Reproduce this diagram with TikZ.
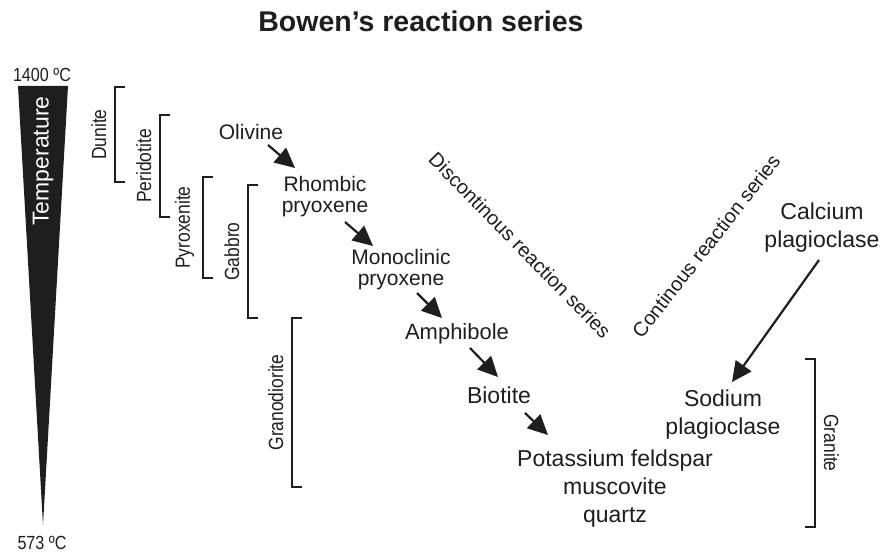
\documentclass[tikz,border=0pt]{standalone}
\usepackage{fontspec}
\setmainfont{Liberation Sans}
\newfontfamily\narrowfont[FakeStretch=0.85]{Liberation Sans}
\usetikzlibrary{arrows.meta}

\definecolor{ink}{RGB}{30,30,30}
\tikzset{
  mineral/.style={font=\fontsize{21}{21}\selectfont,align=center,inner sep=0pt,text=ink},
  lowmineral/.style={font=\fontsize{23}{28}\selectfont,align=center,inner sep=0pt,text=ink},
  series/.style={font=\fontsize{20}{20}\selectfont,inner sep=0pt,text=ink},
  rock/.style={font=\narrowfont\fontsize{20.5}{20.5}\selectfont,inner xsep=0pt,inner ysep=8pt,text=ink},
  templabel/.style={font=\narrowfont\fontsize{19}{19}\selectfont,inner sep=0pt,text=ink},
  rockbrace/.style={line width=1.6pt,draw=ink},
  flow/.style={line width=2.2pt,draw=ink,-{Triangle[length=20pt,width=19pt]}}
}

\begin{document}
\begin{tikzpicture}[x=1pt,y=-1pt]
  \useasboundingbox (0,0) rectangle (880,553);
  \node[font=\bfseries\fontsize{28.5}{28.5}\selectfont,text=ink,inner sep=0pt,anchor=base] (title) at (421,32) {Bowen’s reaction series};
  % temperature wedge
  \fill[ink] (18,86) -- (68,86) -- (43,525) -- cycle;
  \node[templabel] (hot) at (42,75) {1400 ºC};
  \node[templabel] (cold) at (42,543) {573 ºC};
  \node[rotate=90,text=white,font=\fontsize{23}{23}\selectfont,inner sep=0pt] (temp) at (43,161) {Temperature};
  % rock brackets
  \draw[rockbrace] (125,87) -- (115,87) -- (115,182) node[midway,rock,rotate=90,anchor=south] {Dunite} -- (125,182);
  \draw[rockbrace] (170,115) -- (160,115) -- (160,217) node[midway,rock,rotate=90,anchor=south] {Peridotite} -- (170,217);
  \draw[rockbrace] (213,177) -- (203,177) -- (203,278) node[midway,rock,rotate=90,anchor=south] {Pyroxenite} -- (213,278);
  \draw[rockbrace] (258,185) -- (248,185) -- (248,318) node[midway,rock,rotate=90,anchor=south] {Gabbro} -- (258,318);
  \draw[rockbrace] (302,318) -- (292,318) -- (292,487) node[midway,rock,rotate=90,anchor=south] {Granodiorite} -- (302,487);
  \draw[rockbrace] (805,359) -- (815,359) -- (815,527) node[midway,rock,rotate=-90,anchor=south] {Granite} -- (805,527);
  % minerals
  \node[mineral] (olivine) at (251,132) {Olivine};
  \node[mineral] (rhombic) at (325,197) {Rhombic\\pryoxene};
  \node[mineral] (monoclinic) at (401,270) {Monoclinic\\pryoxene};
  \node[mineral,font=\fontsize{22}{22}\selectfont] (amphibole) at (457,334) {Amphibole};
  \node[mineral,font=\fontsize{23}{23}\selectfont] (biotite) at (499,395) {Biotite};
  \node[lowmineral] (potassium) at (615,489) {Potassium feldspar\\muscovite\\quartz};
  \node[lowmineral] (calcium) at (822,228) {Calcium\\plagioclase};
  \node[lowmineral] (sodium) at (723,415) {Sodium\\plagioclase};
  % series labels
  \node[series,rotate=-45.6] (discontinuous) at (520,245) {Discontinous reaction series};
  \node[series,rotate=51.8] (continuous) at (706,246) {Continous reaction series};
  % reactions
  \draw[flow] ([shift={(17,13)}]olivine.center) -- ([shift={(-30,-29)}]rhombic.center);
  \draw[flow] ([shift={(20,25)}]rhombic.center) -- ([shift={(-28,-24)}]monoclinic.center);
  \draw[flow] ([shift={(16,23)}]monoclinic.center) -- ([shift={(-15,-16)}]amphibole.center);
  \draw[flow] ([shift={(13,14)}]amphibole.center) -- ([shift={(-1,-18)}]biotite.center);
  \draw[flow] ([shift={(26,18)}]biotite.center) -- ([shift={(-67,-54)}]potassium.center);
  \draw[flow] ([shift={(-3,32)}]calcium.center) -- ([shift={(9,-33)}]sodium.center);
\end{tikzpicture}
\end{document}
